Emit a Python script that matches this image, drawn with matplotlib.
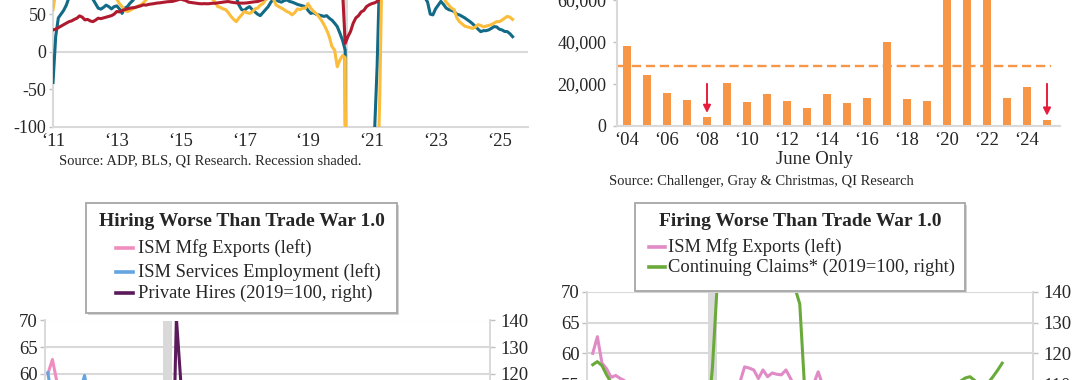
import numpy as np
import matplotlib
matplotlib.use('Agg')
import matplotlib.pyplot as plt
from matplotlib.patches import Rectangle
from matplotlib.lines import Line2D
from matplotlib.ticker import FuncFormatter

plt.rcParams['font.family'] = ['Liberation Serif', 'DejaVu Serif']
plt.rcParams['text.color'] = '#262626'
plt.rcParams['xtick.color'] = '#bfbfbf'
plt.rcParams['ytick.color'] = '#bfbfbf'
plt.rcParams['xtick.labelcolor'] = '#262626'
plt.rcParams['ytick.labelcolor'] = '#262626'

# ---------------- data ----------------
# top left: monthly, Jan 2011 - Jun 2025
tl_teal = [
    -41, 20, 45, 50, 55, 62, 72, 80, 85, 85, 88, 90,
    88, 84, 78, 70, 64, 58, 56.7, 59, 62, 60, 57, 60,
    61, 57, 51, 58, 60, 64.7, 68, 73, 78, 80, 82, 85,
    85, 90, 95, 98, 100, 100, 98, 95, 92, 90, 92, 95,
    95, 92, 90, 88, 85, 85, 88, 90, 88, 85, 82, 80,
    82, 80, 78, 80, 78, 76, 78, 76, 75, 72, 62, 56,
    55, 58, 60, 56, 53, 50, 48, 52, 56, 60, 66, 70,
    69, 67, 66, 68, 69, 67, 66, 64.6, 63, 62, 61, 60,
    55, 51, 52, 50, 49, 48, 47, 48, 44.6, 42, 38, 33.4,
    24.6, 15, 2, -900, -1000, -900, -800, -700, -600, -500, -400, -250,
    -140, -110, -20, 110, 150, 140, 130, 120, 110, 100, 95, 92,
    90, 88, 85, 85, 82, 80, 80, 78, 72, 66, 50, 49,
    57, 62, 67, 63, 58, 56, 55, 53.5, 50, 49, 47, 45,
    42.4, 40, 37, 33.4, 30, 26.7, 28, 28, 29, 31, 33.4, 33,
    30, 29, 27, 26.7, 24, 20,
]
tl_yellow = [
    56, 80, 90, 95, 95, 92, 90, 88, 85, 85, 85, 85,
    85, 88, 90, 88, 85, 85, 82, 80, 80, 78, 76, 74,
    70, 64, 60, 55, 53.5, 55, 57, 59, 61, 62, 65, 69,
    75, 78, 80, 82, 85, 88, 90, 90, 88, 88, 85, 85,
    85, 82, 80, 80, 82, 80, 78, 80, 78, 76, 75, 74,
    70, 66, 60, 59, 57, 56, 52, 47, 43, 40, 45, 49,
    53.5, 52, 51, 53, 57, 58, 62, 64, 69, 72, 72, 70,
    62, 60, 58, 56, 53.5, 52, 49, 52, 57, 56, 58, 58,
    64, 58, 54, 51, 47, 42, 36, 29, 20, 6.7, 2.3, -20,
    -11, -5, -8, -900, -1100, -1000, -900, -800, -700, -600, -500, -400,
    -350, -280, -200, -60, 150, 140, 130, 120, 110, 100, 95, 92,
    90, 90, 88, 86, 85, 85, 82, 82, 80, 80, 80, 78,
    78, 80, 76, 72, 66, 62, 58, 56, 45, 40, 37, 34,
    33, 32, 31, 33, 36, 35, 33, 34, 35, 36, 38, 40,
    40, 42, 44.6, 47, 46, 43,
]
tl_red = [
    29, 30, 32, 34, 36, 38, 40, 41, 43, 44.6, 47.7, 46,
    42.4, 43, 41, 40, 42, 44.6, 44, 45, 46, 47, 48, 50,
    53.5, 53, 55, 56, 57, 58, 58.5, 59, 60, 61, 62.4, 62,
    63, 63.5, 64, 64.7, 65, 65.5, 66, 66.5, 66.8, 67, 68, 69,
    70, 69, 68, 66, 65.5, 65, 64.5, 64, 63.8, 64, 63.8, 64,
    64.5, 64.5, 65, 65.5, 66, 66.5, 66.8, 66, 65.5, 65, 64.7, 64.7,
    64.7, 65, 65.5, 66, 66.5, 66.8, 68, 69.5, 72, 75, 78, 80,
    82, 85, 85, 88, 90, 90, 92, 90, 90, 92, 92, 90,
    90, 90, 92, 90, 90, 88, 88, 88, 86, 86, 85, 85,
    85, 80, 11, 20, 27, 38, 45, 48, 53, 55, 60, 62.4,
    64, 65, 66.8, 72, 78, 82, 85, 88, 90, 90, 92, 92,
    92, 92, 90, 90, 90, 88, 88, 88, 86, 86, 85, 85,
    84, 84, 83, 82, 82, 81, 80, 80, 80, 79, 79, 78,
    78, 78, 77, 77, 77, 76, 76, 76, 76, 76, 76, 76,
    76, 76, 76, 76, 76, 76,
]
tl_ticks = [2011, 2013, 2015, 2017, 2019, 2021, 2023, 2025]
tl_labels = ['\u201811', '\u201813', '\u201815', '\u201817', '\u201819', '\u201821', '\u201823', '\u201825']

# top right: June hiring plans
june_years = list(range(2004, 2026))
june_hires = [38000, 24000, 15700, 12200, 4200, 20300, 11400, 15000, 12000, 8600, 15000,
              10700, 13100, 39700, 13000, 11700, 150000, 120000, 90000, 13200, 18700, 2900]
june_avg = 28400
arrow_years = [2008, 2025]
tr_ticks = list(range(2004, 2025, 2))
tr_labels = ['\u2018%02d' % (y % 100) for y in tr_ticks]

# bottom: monthly, Jan 2018 - Jun 2025
ism_exports = [
    60.0, 62.7, 58.4, 57.5, 56.1, 56.4, 55.9, 55.5, 54.0, 53.0, 52.2, 52.8,
    51.2, 49.0, 51.7, 49.5, 50.0, 47.5, 48.1, 43.3, 41.0, 49.0, 47.9, 47.3,
    53.3, 51.3, 46.6, 35.3, 39.5, 47.6, 50.4, 53.3, 55.3, 57.8, 57.6, 57.3,
    55.9, 57.3, 56.2, 56.8, 56.6, 56.5, 57.3, 55.9, 54.5, 54.6, 52.9, 53.6,
    55.0, 57.0, 54.8, 52.9, 50.3, 50.7, 52.6, 49.4, 47.8, 46.5, 48.4, 46.2,
    49.4, 49.9, 47.6, 46.3, 49.6, 47.3, 46.1, 46.5, 49.4, 45.8, 46.0, 49.9,
    45.2, 51.6, 51.6, 48.7, 50.6, 48.8, 49.0, 48.6, 47.6, 45.3, 48.7, 49.1,
    52.4, 51.6, 49.6, 43.1, 40.1, 46.3,
]
ism_services_emp = [
    60.2, 55.0, 56.6, 53.6, 54.1, 53.6, 56.1, 56.7, 59.7, 55.0, 56.5, 57.0,
    55.2, 55.2, 55.9, 53.7, 58.1, 55.0, 56.2, 53.1, 50.4, 53.7, 55.5, 55.2,
    53.1, 53.2, 47.0, 30.0, 31.8, 43.1, 42.1, 47.9, 51.8, 50.1, 51.5, 48.7,
    52.7, 52.7, 57.2, 57.8, 55.3, 49.3, 53.8, 53.7, 53.0, 51.6, 56.5, 54.9,
    52.3, 48.5, 54.0, 49.5, 50.2, 47.4, 49.1, 50.2, 53.0, 49.1, 51.5, 49.8,
    50.0, 54.0, 51.3, 50.8, 49.2, 53.1, 50.7, 54.7, 53.4, 50.2, 50.7, 43.3,
    50.5, 48.0, 48.5, 45.9, 47.1, 46.1, 51.1, 50.2, 48.1, 53.0, 51.5, 51.3,
    52.3, 53.9, 46.2, 49.0, 50.7, 47.2,
]
private_hires = [
    96, 97, 96, 97, 98, 97, 98, 98, 97, 99, 98, 99,
    100, 99, 100, 101, 100, 100, 101, 100, 99, 100, 100, 101,
    101, 100, 85, 65, 141, 116, 110, 105, 100, 98, 97, 96,
    97, 100, 105, 106, 108, 110, 112, 110, 112, 115, 113, 110,
    112, 110, 112, 110, 108, 108, 106, 107, 103, 104, 102, 100,
    102, 100, 98, 96, 98, 97, 95, 94, 94, 93, 92, 90,
    92, 91, 92, 91, 92, 90, 88, 90, 89, 88, 89, 88,
    87, 88, 87, 86, 87, 85,
]
cont_claims = [
    116.3, 117.3, 116.0, 113.0, 110.5, 108, 106, 105, 104, 103, 102, 102,
    101, 101, 100, 100, 100, 100, 100, 100, 99, 99, 99, 99,
    99, 100, 115, 141, 700, 1000, 950, 800, 650, 500, 400, 350,
    300, 280, 250, 220, 210, 200, 180, 165, 141, 136, 110, 100,
    95, 88, 85, 82, 80, 80, 81, 83, 83, 85, 90, 98,
    100, 104, 106, 108, 106, 104, 102, 101, 98, 101, 105, 106,
    106, 106, 106, 106, 107, 109, 109, 110, 111, 112, 112.4, 111.2,
    109.5, 109.8, 110.5, 112.4, 114.5, 116.8,
]
recession = (2020.083, 2020.25)

# ---------------- figure ----------------
W, H = 1080, 380
fig = plt.figure(figsize=(W / 100, H / 100), dpi=100)


def px_box(x0, x1, ytop, ybot):
    return [x0 / W, 1 - ybot / H, (x1 - x0) / W, (ybot - ytop) / H]


GRID = '#d9d9d9'
TICK = dict(labelsize=13, length=3, width=1)

# top left
tl_x = 2011 + np.arange(len(tl_teal)) / 12
ax1 = fig.add_axes(px_box(52.7, 528, -23.4, 126.8))
ax1.axvspan(*recession, color=GRID, lw=0, zorder=0)
ax1.axhline(0, color=GRID, lw=1.5, zorder=1)
ax1.plot(tl_x, tl_teal, color='#126a87', lw=2.2, zorder=3)
ax1.plot(tl_x, tl_yellow, color='#fbbd3b', lw=2.2, zorder=3)
ax1.plot(tl_x, tl_red, color='#b01a2f', lw=2.2, zorder=4)
ax1.set_xlim(2010.99, 2025.9)
ax1.set_ylim(-100, 100)
ax1.set_yticks([-100, -50, 0, 50])
ax1.set_yticklabels(['-100', '-50', '0', '50'])
ax1.set_xticks(tl_ticks)
ax1.set_xticklabels(tl_labels)
ax1.tick_params(axis='y', pad=1.5, **TICK)
ax1.tick_params(axis='x', labelsize=13.5, length=0, pad=4.5)
for s in ['top', 'right']:
    ax1.spines[s].set_visible(False)
for s in ['left', 'bottom']:
    ax1.spines[s].set_color(GRID)
    ax1.spines[s].set_linewidth(1.5)
ax1.patch.set_alpha(0)

# top right
ax2 = fig.add_axes(px_box(617, 1060, -42.6, 126))
ax2.bar(june_years, june_hires, width=0.4, color='#f79646', zorder=2)
ax2.hlines(june_avg, june_years[0] - 0.45, june_years[-1] + 0.2, color='#f79646',
           lw=1.7, linestyles=[(0, (3.9, 2.0))], zorder=3)
for yr in arrow_years:
    top = june_hires[june_years.index(yr)]
    ax2.annotate('', xy=(yr, top + 2000), xytext=(yr, 20000),
                 arrowprops=dict(arrowstyle='-|>', color='#e81c3c', lw=1.4,
                                 mutation_scale=11, shrinkA=0, shrinkB=0))
ax2.set_xlim(2003.5, 2025.65)
ax2.set_ylim(0, 80000)
ax2.set_yticks([0, 20000, 40000, 60000])
ax2.yaxis.set_major_formatter(FuncFormatter(lambda v, p: '{:,.0f}'.format(v)))
ax2.set_xticks(tr_ticks)
ax2.set_xticklabels(tr_labels)
ax2.tick_params(axis='y', pad=4.5, **TICK)
ax2.tick_params(axis='x', labelsize=13.5, length=0, pad=4.5)
for s in ['top', 'right']:
    ax2.spines[s].set_visible(False)
for s in ['left', 'bottom']:
    ax2.spines[s].set_color(GRID)
    ax2.spines[s].set_linewidth(1.5)
ax2.patch.set_alpha(0)

fig.text(58.6 / W, 1 - 161 / H, 'Source: ADP, BLS, QI Research. Recession shaded.',
         fontsize=10.5, ha='left', va='center')
fig.text(814 / W, 1 - 160 / H, 'June Only', fontsize=13.5, ha='center', va='center')
fig.text(609 / W, 1 - 181.7 / H, 'Source: Challenger, Gray & Christmas, QI Research',
         fontsize=10.5, ha='left', va='center')

# bottom panels
b_x = 2018 + np.arange(len(ism_exports)) / 12


def dual_axes(box, xlim):
    ax = fig.add_axes(box)
    ax.axvspan(*recession, color=GRID, lw=0, zorder=0)
    ax.set_ylim(40, 70)
    ax.set_yticks(range(40, 75, 5))
    ax.grid(axis='y', color=GRID, lw=1.5, zorder=0)
    ax.set_axisbelow(True)
    ax.set_xlim(*xlim)
    ax.set_xticks([])
    ax.tick_params(axis='y', pad=1.5, labelsize=13.5, length=3.6, width=1)
    axr = ax.twinx()
    axr.set_ylim(80, 140)
    axr.set_yticks(range(80, 150, 10))
    axr.tick_params(axis='y', pad=4, labelsize=13.5, length=3.6, width=1)
    for a in (ax, axr):
        for s in ['top', 'bottom']:
            a.spines[s].set_visible(False)
        for s in ['left', 'right']:
            a.spines[s].set_color(GRID)
            a.spines[s].set_linewidth(1.2)
    return ax, axr


ax3, ax3r = dual_axes(px_box(44.8, 489.7, 320.5, 480.7), (2017.945, 2026.02))
ax3.plot(b_x, ism_exports, color='#f08dbf', lw=2.2, zorder=3)
ax3.plot(b_x, ism_services_emp, color='#64a5e1', lw=2.2, zorder=3)
ax3r.plot(b_x, private_hires, color='#5b1a5b', lw=2.2, zorder=3)

ax4, ax4r = dual_axes(px_box(586.7, 1033, 291.7, 476.5), (2017.89, 2025.975))
ax4.plot(b_x, ism_exports, color='#e08ac6', lw=2.2, zorder=3)
ax4r.plot(b_x, cont_claims, color='#6aaa3b', lw=2.2, zorder=3)


def legend_box(x0, x1, ytop, ybot, title, entries, title_y, row_ys, hx0, hx1, tx):
    fig.add_artist(Rectangle(((x0 + 2) / W, 1 - (ybot + 2) / H), (x1 - x0) / W, (ybot - ytop) / H,
                             transform=fig.transFigure, facecolor='#d4d4d4', edgecolor='none',
                             zorder=9))
    fig.add_artist(Rectangle((x0 / W, 1 - ybot / H), (x1 - x0) / W, (ybot - ytop) / H,
                             transform=fig.transFigure, facecolor='white', edgecolor='#a6a6a6',
                             lw=1.3, zorder=10))
    t = fig.text((x0 + x1) / 2 / W, 1 - title_y / H, title, fontsize=14, fontweight='bold',
                 ha='center', va='center')
    t.set_zorder(11)
    for (label, color), ry in zip(entries, row_ys):
        fig.add_artist(Line2D([hx0 / W, hx1 / W], [1 - ry / H, 1 - ry / H],
                              transform=fig.transFigure, color=color, lw=2.6, zorder=11))
        tt = fig.text(tx / W, 1 - ry / H, label, fontsize=13.3, ha='left', va='center')
        tt.set_zorder(11)


legend_box(86, 397, 203.3, 313.3, 'Hiring Worse Than Trade War 1.0',
           [('ISM Mfg Exports (left)', '#f08dbf'),
            ('ISM Services Employment (left)', '#64a5e1'),
            ('Private Hires (2019=100, right)', '#5b1a5b')],
           221.7, [248.3, 271.7, 293.3], 115.5, 132.8, 137.5)

legend_box(635, 965, 203.3, 290.7, 'Firing Worse Than Trade War 1.0',
           [('ISM Mfg Exports (left)', '#e08ac6'),
            ('Continuing Claims* (2019=100, right)', '#6aaa3b')],
           221.7, [246.7, 267.3], 649, 665, 667.5)

fig.savefig('out.png', dpi=100)
